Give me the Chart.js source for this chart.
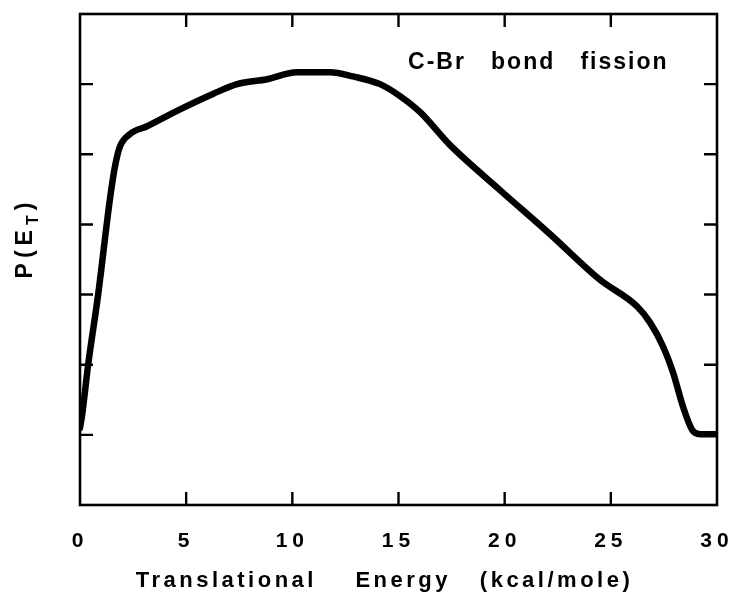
<!DOCTYPE html>
<html>
<head>
<meta charset="utf-8">
<script src="https://cdn.jsdelivr.net/npm/chart.js@4.4.1/dist/chart.umd.min.js"></script>
<style>
  html, body { margin: 0; padding: 0; background: #ffffff; }
  #wrap { width: 735px; height: 593px; position: relative; }
</style>
</head>
<body>
<div id="wrap"><canvas id="c" width="735" height="593"></canvas></div>
<script>
// ---- data ----
const energy = [0, 0.09, 0.38, 0.85, 1.41, 1.65, 1.88, 2.36, 3.16, 4.71, 6.26, 7.40, 8.81, 10.22, 11.78, 12.86, 14.13, 15.07, 16.02, 17.43, 19.78, 22.14, 24.49, 26.24, 26.85, 27.46, 27.93, 28.40, 28.83, 29.20, 30.0];
const prob   = [1.10, 1.26, 1.99, 2.99, 4.36, 4.83, 5.11, 5.29, 5.40, 5.64, 5.86, 6.00, 6.07, 6.17, 6.17, 6.11, 6.00, 5.83, 5.60, 5.13, 4.49, 3.86, 3.21, 2.83, 2.60, 2.26, 1.89, 1.40, 1.07, 1.01, 1.01];
const xTickValues = [0, 5, 10, 15, 20, 25, 30];
const xInnerTicks = [5, 10, 15, 20, 25];
const yInnerTicks = [1, 2, 3, 4, 5, 6];
const xTitle = 'Translational    Energy   (kcal/mole)';
const yTitleMain = 'P(E';
const yTitleSub = 'T';
const yTitleEnd = ')';
const annotation = 'C-Br   bond   fission';

const points = energy.map((e, i) => ({ x: e, y: prob[i] }));

const framePlugin = {
  id: 'frame',
  beforeDraw(chart) {
    chart.ctx.letterSpacing = '5px';
  },
  beforeDatasetsDraw(chart) {
    chart.ctx.letterSpacing = '0px';
  },
  afterDraw(chart) {
    const ctx = chart.ctx;
    const a = chart.chartArea;
    const xs = chart.scales.x, ys = chart.scales.y;
    ctx.save();
    ctx.strokeStyle = '#000';
    ctx.lineWidth = 2.6;
    ctx.strokeRect(a.left, a.top, a.right - a.left, a.bottom - a.top);
    const tl = 13;
    ctx.lineWidth = 2.4;
    ctx.beginPath();
    xInnerTicks.forEach(v => {
      const px = xs.getPixelForValue(v);
      ctx.moveTo(px, a.bottom); ctx.lineTo(px, a.bottom - tl);
      ctx.moveTo(px, a.top); ctx.lineTo(px, a.top + tl);
    });
    yInnerTicks.forEach(v => {
      const py = ys.getPixelForValue(v);
      ctx.moveTo(a.left, py); ctx.lineTo(a.left + tl, py);
      ctx.moveTo(a.right, py); ctx.lineTo(a.right - tl, py);
    });
    ctx.stroke();

    ctx.fillStyle = '#000';
    // x title
    ctx.letterSpacing = '3.5px';
    ctx.font = 'bold 22px "Liberation Sans", Arial, sans-serif';
    ctx.textAlign = 'center';
    ctx.textBaseline = 'middle';
    ctx.fillText(xTitle, (a.left + a.right) / 2 - 14, 581);

    // annotation
    ctx.letterSpacing = '2px';
    ctx.font = 'bold 23px "Liberation Sans", Arial, sans-serif';
    ctx.textAlign = 'left';
    ctx.textBaseline = 'middle';
    ctx.fillText(annotation, xs.getPixelForValue(15.45), ys.getPixelForValue(6.3));

    // y title with subscript
    ctx.translate(32, 238);
    ctx.rotate(-Math.PI / 2);
    ctx.textBaseline = 'alphabetic';
    ctx.textAlign = 'left';
    ctx.letterSpacing = '5px';
    const fMain = 'bold 23px "Liberation Sans", Arial, sans-serif';
    const fSub = 'bold 16px "Liberation Sans", Arial, sans-serif';
    ctx.font = fMain;
    const w1 = ctx.measureText(yTitleMain).width;
    const w3 = ctx.measureText(yTitleEnd).width;
    ctx.font = fSub;
    const w2 = ctx.measureText(yTitleSub).width;
    let x0 = -(w1 + w2 + w3) / 2;
    ctx.font = fMain;
    ctx.fillText(yTitleMain, x0, 0);
    ctx.font = fSub;
    ctx.fillText(yTitleSub, x0 + w1, 6);
    ctx.font = fMain;
    ctx.fillText(yTitleEnd, x0 + w1 + w2, 0);
    ctx.restore();
  }
};

new Chart(document.getElementById('c'), {
  type: 'line',
  data: {
    datasets: [{
      data: points,
      borderColor: '#000',
      borderWidth: 6.5,
      pointRadius: 0,
      fill: false,
      cubicInterpolationMode: 'monotone',
      borderCapStyle: 'round',
      borderJoinStyle: 'round'
    }]
  },
  options: {
    responsive: false,
    animation: false,
    events: [],
    layout: { padding: { top: 14, right: 18, left: 0, bottom: 0 } },
    plugins: { legend: { display: false }, tooltip: { enabled: false } },
    scales: {
      x: {
        type: 'linear',
        min: 0, max: 30,
        afterBuildTicks(scale) { scale.ticks = xTickValues.map(v => ({ value: v })); },
        afterFit(scale) { scale.height = 88; scale.paddingRight = 0; scale.paddingLeft = 0; },
        grid: { display: false, drawTicks: false },
        border: { display: false },
        ticks: {
          color: '#000',
          padding: 24,
          maxRotation: 0,
          font: { family: '"Liberation Sans", Arial, sans-serif', size: 21, weight: 'bold' }
        }
      },
      y: {
        type: 'linear',
        min: 0, max: 7,
        afterFit(scale) { scale.width = 80; },
        grid: { display: false, drawTicks: false },
        border: { display: false },
        ticks: { display: false, stepSize: 1 }
      }
    }
  },
  plugins: [framePlugin]
});
</script>
</body>
</html>
